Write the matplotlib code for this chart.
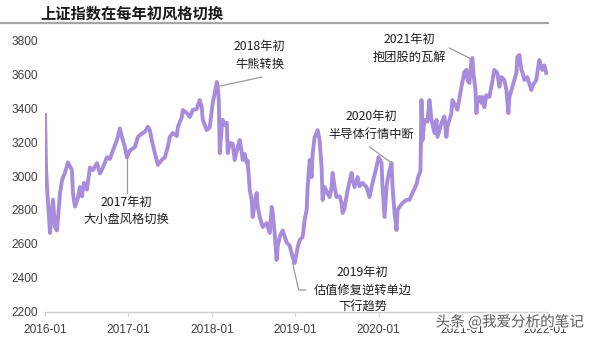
import matplotlib
matplotlib.use("Agg")
import matplotlib.pyplot as plt
import matplotlib.patheffects as pe

# decimal-year positions and index values
t = [2016.000, 2016.012, 2016.024, 2016.060, 2016.084, 2016.096, 2016.120, 2016.144, 2016.180, 2016.204,
     2016.240, 2016.275, 2016.323, 2016.335, 2016.359, 2016.395, 2016.419, 2016.443, 2016.467, 2016.503,
     2016.539, 2016.575, 2016.623, 2016.659, 2016.695, 2016.743, 2016.778, 2016.814, 2016.862, 2016.898,
     2016.922, 2016.958, 2016.982, 2017.018, 2017.078, 2017.114, 2017.162, 2017.198, 2017.234, 2017.257,
     2017.281, 2017.317, 2017.353, 2017.401, 2017.437, 2017.473, 2017.497, 2017.533, 2017.581, 2017.593,
     2017.641, 2017.653, 2017.701, 2017.737, 2017.772, 2017.820, 2017.856, 2017.880, 2017.892, 2017.940,
     2017.976, 2018.000, 2018.012, 2018.036, 2018.060, 2018.072, 2018.084, 2018.096, 2018.120, 2018.132,
     2018.156, 2018.180, 2018.192, 2018.216, 2018.251, 2018.275, 2018.311, 2018.335, 2018.359, 2018.371,
     2018.395, 2018.419, 2018.431, 2018.455, 2018.479, 2018.491, 2018.515, 2018.539, 2018.551, 2018.575,
     2018.611, 2018.659, 2018.695, 2018.719, 2018.731, 2018.754, 2018.778, 2018.790, 2018.814, 2018.850,
     2018.898, 2018.934, 2018.970, 2018.994, 2019.018, 2019.030, 2019.054, 2019.090, 2019.114, 2019.138,
     2019.150, 2019.174, 2019.198, 2019.210, 2019.234, 2019.257, 2019.269, 2019.293, 2019.317, 2019.329,
     2019.353, 2019.389, 2019.413, 2019.437, 2019.449, 2019.473, 2019.497, 2019.533, 2019.557, 2019.569,
     2019.593, 2019.629, 2019.677, 2019.689, 2019.713, 2019.749, 2019.772, 2019.808, 2019.856, 2019.892,
     2019.928, 2019.976, 2020.000, 2020.036, 2020.048, 2020.072, 2020.096, 2020.108, 2020.132, 2020.156,
     2020.168, 2020.192, 2020.216, 2020.228, 2020.251, 2020.287, 2020.335, 2020.371, 2020.407, 2020.455,
     2020.479, 2020.503, 2020.515, 2020.527, 2020.551, 2020.587, 2020.611, 2020.635, 2020.671, 2020.695,
     2020.707, 2020.754, 2020.790, 2020.814, 2020.826, 2020.874, 2020.886, 2020.934, 2020.946, 2020.994,
     2021.030, 2021.054, 2021.066, 2021.090, 2021.114, 2021.126, 2021.138, 2021.162, 2021.174, 2021.186,
     2021.210, 2021.234, 2021.246, 2021.269, 2021.293, 2021.329, 2021.353, 2021.389, 2021.425, 2021.449,
     2021.473, 2021.509, 2021.533, 2021.557, 2021.569, 2021.605, 2021.653, 2021.665, 2021.689, 2021.713,
     2021.725, 2021.749, 2021.784, 2021.832, 2021.844, 2021.892, 2021.904, 2021.928, 2021.952, 2021.964,
     2021.988, 2022.012]

index_values = [3360, 3050, 2935, 2665, 2800, 2860, 2700, 2680, 2900, 2975,
                3020, 3080, 3035, 2900, 2820, 2870, 2935, 2880, 2960, 2920,
                3050, 3035, 3075, 3015, 3050, 3110, 3100, 3150, 3210, 3280,
                3230, 3170, 3110, 3150, 3170, 3230, 3250, 3260, 3290, 3270,
                3210, 3135, 3065, 3095, 3110, 3170, 3230, 3253, 3235, 3288,
                3347, 3388, 3370, 3347, 3388, 3395, 3447, 3405, 3330, 3270,
                3288, 3388, 3430, 3488, 3553, 3523, 3447, 3135, 3288, 3330,
                3300, 3312, 3135, 3194, 3190, 3094, 3170, 3212, 3140, 3094,
                3130, 3076, 3090, 2918, 2859, 2759, 2841, 2900, 2818, 2759,
                2700, 2723, 2665, 2818, 2782, 2665, 2506, 2582, 2641, 2680,
                2610, 2590, 2523, 2488, 2547, 2582, 2623, 2641, 2741, 2800,
                2935, 3094, 2994, 3135, 3230, 3253, 3270, 3212, 3053, 2859,
                2935, 2900, 2876, 2935, 3018, 2935, 2876, 2880, 2841, 2782,
                2810, 2918, 3018, 2976, 2935, 2994, 2940, 2959, 2935, 2876,
                2959, 3053, 3112, 3076, 2935, 2759, 2935, 2976, 3035, 3076,
                2935, 2782, 2682, 2800, 2818, 2841, 2859, 2860, 2900, 2950,
                3000, 3030, 3447, 3210, 3330, 3320, 3447, 3330, 3253, 3330,
                3230, 3310, 3350, 3230, 3290, 3370, 3447, 3405, 3390, 3525,
                3612, 3625, 3565, 3547, 3682, 3694, 3606, 3506, 3370, 3447,
                3465, 3430, 3465, 3405, 3476, 3465, 3524, 3624, 3606, 3525,
                3582, 3565, 3506, 3370, 3465, 3524, 3606, 3700, 3712, 3624,
                3610, 3565, 3582, 3506, 3530, 3565, 3606, 3682, 3641, 3624,
                3650, 3606]

year_ticks = [2016, 2017, 2018, 2019, 2020, 2021, 2022]
year_labels = ["2016-01", "2017-01", "2018-01", "2019-01", "2020-01", "2021-01", "2022-01"]
y_ticks = [2200, 2400, 2600, 2800, 3000, 3200, 3400, 3600, 3800]

title = "上证指数在每年初风格切换"
notes = ["2017年初\n大小盘风格切换", "2018年初\n牛熊转换", "2019年初\n估值修复逆转单边\n下行趋势",
         "2020年初\n半导体行情中断", "2021年初\n抱团股的瓦解"]

cjk = ["Noto Sans CJK SC", "DejaVu Sans"]
lat = ["Liberation Sans", "DejaVu Sans"]

fig = plt.figure(figsize=(6, 3.4), dpi=100)
fig.patch.set_facecolor("white")
ax = fig.add_axes([0.075, 0.0824, 0.838, 0.7999])

ax.plot(t, index_values, color="#A88CDC", lw=2.8, solid_joinstyle="round", zorder=3)

ax.set_xlim(2016.0, 2022.03)
ax.set_ylim(2200, 3800)
ax.set_xticks(year_ticks)
ax.set_xticklabels(year_labels, fontfamily=lat, fontsize=8.6, color="#404040")
ax.set_yticks(y_ticks)
ax.set_yticklabels([str(v) for v in y_ticks], fontfamily=lat, fontsize=8.6, color="#404040")
for s in ["top", "right", "left"]:
    ax.spines[s].set_visible(False)
ax.spines["bottom"].set_color("#d0d0d0")
ax.spines["bottom"].set_linewidth(1.0)
ax.tick_params(axis="x", length=3, color="#d0d0d0", pad=6)
ax.tick_params(axis="y", length=0, pad=5)

# annotations
kw = dict(fontfamily=cjk, fontsize=8.8, color="#1e1e1e", ha="center", va="center", linespacing=1.45,
          fontweight="medium")
ax.text(2016.98, 2794, notes[0], **kw)
ax.text(2018.575, 3709, notes[1], **kw)
ax.text(2019.808, 2329, notes[2], **kw)
ax.text(2019.916, 3297, notes[3], **kw)
ax.text(2020.371, 3750, notes[4], **kw)

lc = dict(color="#9a9a9a", lw=0.9, zorder=4)
ax.plot([2016.98, 2016.98], [3125, 2900], **lc)
ax.plot([2018.096, 2018.599], [3529, 3582], **lc)
ax.plot([2018.970, 2019.042, 2019.126], [2488, 2329, 2329], **lc)
ax.plot([2019.892, 2020.156], [3171, 3077], **lc)
ax.plot([2020.850, 2021.114], [3753, 3688], **lc)

# title and rule
fig.text(40 / 600, 1 - 14 / 340, title, fontfamily=cjk, fontsize=11, fontweight="bold",
         color="#1a1a1a", ha="left", va="center")
fig.add_artist(plt.Line2D([0, 548 / 600], [1 - 22.5 / 340] * 2, color="#a6a6a6", lw=1.6,
                          transform=fig.transFigure))

# watermark
fig.text(510 / 600, 1 - 322 / 340, "头条 @我爱分析的笔记", fontfamily=cjk, fontsize=10.5,
         color="#4a4a4a", alpha=0.85, ha="center", va="center",
         path_effects=[pe.withStroke(linewidth=2.5, foreground="white")])

fig.savefig("out.png", dpi=100)
